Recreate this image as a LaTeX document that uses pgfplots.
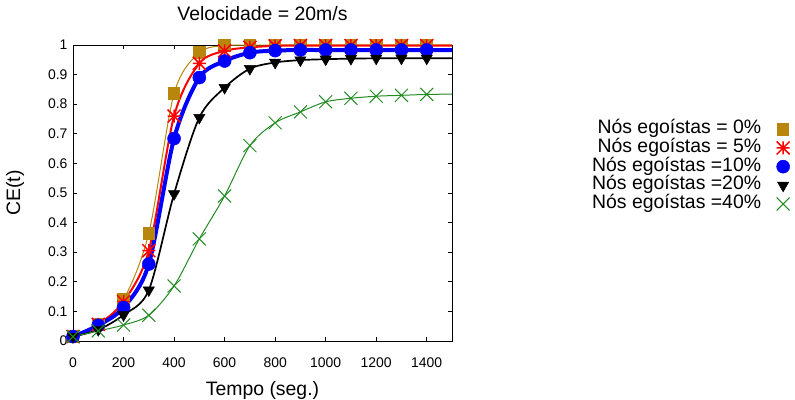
\documentclass[border=0pt]{standalone}
\usepackage{fontspec}
\setmainfont{Liberation Sans}
\usepackage{pgfplots}
\usepackage{pgfplotstable}
\pgfplotsset{compat=1.18}

\definecolor{gpgold}{RGB}{184,134,11}
\definecolor{gpgreen}{RGB}{34,139,34}

% gnuplot style point types: * (plus + cross) and x
\pgfdeclareplotmark{gpstar}{%
  \pgfpathmoveto{\pgfqpoint{-\pgfplotmarksize}{0pt}}\pgfpathlineto{\pgfqpoint{\pgfplotmarksize}{0pt}}%
  \pgfpathmoveto{\pgfqpoint{0pt}{-\pgfplotmarksize}}\pgfpathlineto{\pgfqpoint{0pt}{\pgfplotmarksize}}%
  \pgfpathmoveto{\pgfqpoint{-\pgfplotmarksize}{-\pgfplotmarksize}}\pgfpathlineto{\pgfqpoint{\pgfplotmarksize}{\pgfplotmarksize}}%
  \pgfpathmoveto{\pgfqpoint{-\pgfplotmarksize}{\pgfplotmarksize}}\pgfpathlineto{\pgfqpoint{\pgfplotmarksize}{-\pgfplotmarksize}}%
  \pgfusepathqstroke}
\pgfdeclareplotmark{gpx}{%
  \pgfpathmoveto{\pgfqpoint{-\pgfplotmarksize}{-\pgfplotmarksize}}\pgfpathlineto{\pgfqpoint{\pgfplotmarksize}{\pgfplotmarksize}}%
  \pgfpathmoveto{\pgfqpoint{-\pgfplotmarksize}{\pgfplotmarksize}}\pgfpathlineto{\pgfqpoint{\pgfplotmarksize}{-\pgfplotmarksize}}%
  \pgfusepathqstroke}

% CE(t) per share of selfish nodes; last row (1500) only carries the line to the border
\pgfplotstableread{
t    s0    s5    s10   s20   s40
0    0.015 0.015 0.015 0.015 0.015
100  0.056 0.056 0.053 0.038 0.034
200  0.140 0.133 0.113 0.088 0.054
300  0.364 0.305 0.260 0.172 0.087
400  0.836 0.760 0.684 0.497 0.186
500  0.974 0.938 0.890 0.755 0.345
600  0.998 0.980 0.946 0.856 0.490
700  0.999 0.992 0.974 0.920 0.660
800  1.000 0.997 0.981 0.941 0.737
900  1.000 0.998 0.983 0.949 0.774
1000 1.000 0.998 0.983 0.952 0.808
1100 1.000 0.998 0.983 0.954 0.820
1200 1.000 0.998 0.983 0.955 0.827
1300 1.000 0.998 0.983 0.955 0.830
1400 1.000 0.998 0.983 0.955 0.833
1500 1.000 0.998 0.983 0.955 0.834
}\data

\begin{document}
\begin{tikzpicture}
\useasboundingbox (0,0) rectangle (795bp,400bp);
\begin{axis}[
    at={(73bp,59bp)}, anchor=south west,
    scale only axis,
    width=379bp, height=296bp,
    xmin=0, xmax=1500, ymin=0, ymax=1,
    xtick={0,200,...,1400},
    ytick={0,0.1,...,1.0},
    yticklabels={0,0.1,0.2,0.3,0.4,0.5,0.6,0.7,0.8,0.9,1},
    /pgf/number format/assume math mode=true,
    /pgf/number format/1000 sep={},
    ticklabel style={font=\fontsize{14}{14}\selectfont},
    xticklabel style={yshift=-13bp},
    yticklabel style={xshift=-2bp},
    tick align=inside,
    major tick length=4bp,
    axis line style={line width=0.8bp},
    every tick/.style={black, line width=0.6bp},
    clip=false,
    title={Velocidade = 20m/s},
    title style={font=\fontsize{19.5}{20}\selectfont, at={(axis description cs:0.5,1.064)}, anchor=base},
    xlabel={Tempo (seg.)},
    xlabel style={font=\fontsize{19.5}{20}\selectfont, at={(axis description cs:0.5,-0.183)}, anchor=base},
    ylabel={CE(t)},
    ylabel style={font=\fontsize{19.5}{20}\selectfont, at={(axis description cs:-0.153,0.5)}, anchor=center},
    legend cell align=right,
    legend plot pos=right,
    legend image code/.code={\path (0bp,0bp) (26bp,0bp); \draw[#1,only marks] plot coordinates {(19bp,0bp)};},
    legend style={draw=none, fill=none, at={(axis description cs:1.898,0.589)}, anchor=east,
        inner sep=0pt, row sep=0pt, font=\fontsize{19.5}{20}\selectfont,
        nodes={inner sep=1bp, text height=12.7bp, text depth=4bp},
        /tikz/every even column/.append style={column sep=0pt}},
    every axis plot/.append style={smooth, mark indices={1,2,3,4,5,6,7,8,9,10,11,12,13,14,15}},
]
\addplot[color=gpgold, line width=1bp, mark=square*, mark size=5.8bp] table[x=t, y=s0] {\data};
\addlegendentry{Nós egoístas = 0\%}
\addplot[color=red, line width=2bp, mark=gpstar, mark size=6.5bp, mark options={line width=1.5bp}] table[x=t, y=s5] {\data};
\addlegendentry{Nós egoístas = 5\%}
\addplot[color=blue, line width=4bp, mark=*, mark size=6.5bp, mark options={line width=0.5bp}] table[x=t, y=s10] {\data};
\addlegendentry{Nós egoístas =10\%}
\addplot[color=black, line width=1.7bp, mark=triangle*, mark size=6.5bp, mark options={rotate=180, line width=0.5bp}] table[x=t, y=s20] {\data};
\addlegendentry{Nós egoístas =20\%}
\addplot[color=gpgreen, line width=1bp, mark=gpx, mark size=6.5bp, mark options={line width=1bp}] table[x=t, y=s40] {\data};
\addlegendentry{Nós egoístas =40\%}
\end{axis}
\end{tikzpicture}
\end{document}
